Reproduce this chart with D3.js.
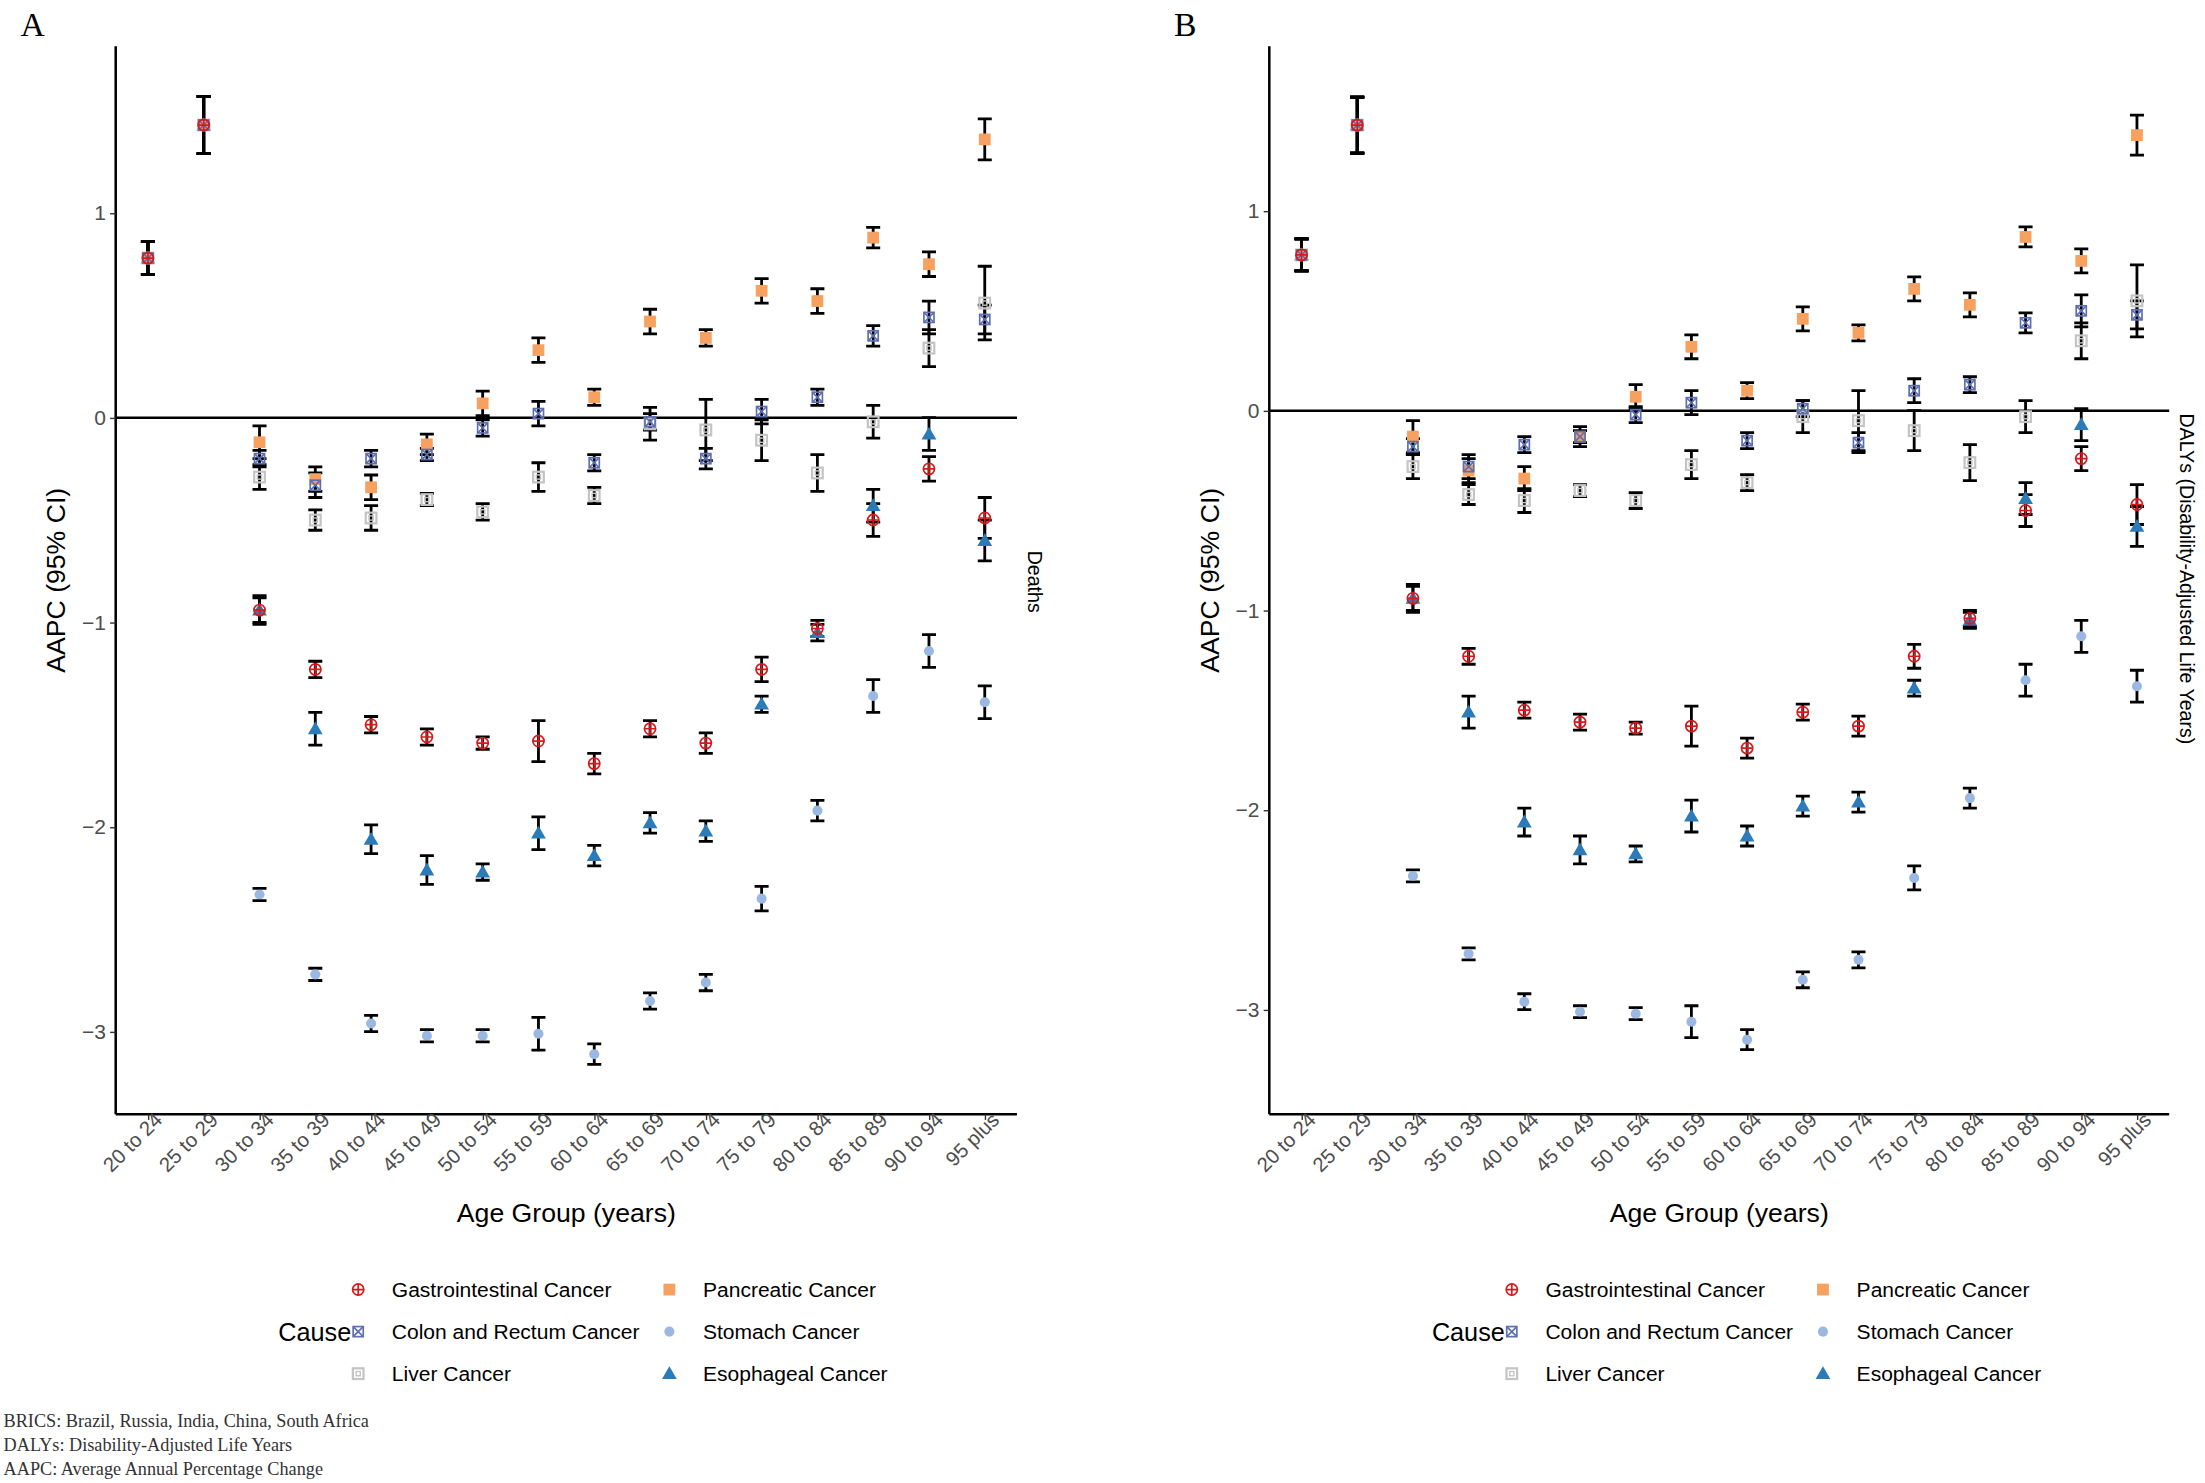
<!DOCTYPE html>
<html><head><meta charset="utf-8">
<script src="https://cdn.jsdelivr.net/npm/d3@7"></script>
<style>body{margin:0;background:#fff}</style>
</head><body>
<svg id="chart" width="2205" height="1483" viewBox="0 0 1568 1058"></svg>
<script>
// age groups on the x axis
var ages = ["20 to 24","25 to 29","30 to 34","35 to 39","40 to 44","45 to 49","50 to 54","55 to 59","60 to 64","65 to 69","70 to 74","75 to 79","80 to 84","85 to 89","90 to 94","95 plus"];
var causes = ["Gastrointestinal Cancer","Colon and Rectum Cancer","Liver Cancer","Pancreatic Cancer","Stomach Cancer","Esophageal Cancer"];
var yTicks = [-3,-2,-1,0,1];

// panel A: deaths
var deathsGI   = [0.78,1.43,-0.94,-1.23,-1.50,-1.56,-1.59,-1.58,-1.69,-1.52,-1.59,-1.23,-1.03,-0.50,-0.25,-0.49];
var deathsCRC  = [0.78,1.43,-0.20,-0.33,-0.20,-0.18,-0.05,0.02,-0.22,-0.02,-0.20,0.03,0.10,0.40,0.49,0.48];
var deathsLiv  = [0.78,1.43,-0.29,-0.50,-0.49,-0.40,-0.46,-0.29,-0.38,-0.03,-0.06,-0.11,-0.27,-0.02,0.34,0.56];
var deathsPan  = [0.78,1.43,-0.12,-0.30,-0.34,-0.13,0.07,0.33,0.10,0.47,0.39,0.62,0.57,0.88,0.75,1.36];
var deathsSto  = [0.78,1.43,-2.33,-2.72,-2.96,-3.02,-3.02,-3.01,-3.11,-2.85,-2.76,-2.35,-1.92,-1.36,-1.14,-1.39];
var deathsEso  = [0.78,1.43,-0.94,-1.52,-2.06,-2.21,-2.22,-2.03,-2.14,-1.98,-2.02,-1.40,-1.05,-0.43,-0.08,-0.60];
// panel B: DALYs
var dalyGI  = [0.78,1.43,-0.94,-1.23,-1.50,-1.56,-1.59,-1.58,-1.69,-1.51,-1.58,-1.23,-1.04,-0.50,-0.24,-0.47];
var dalyCRC = [0.78,1.43,-0.18,-0.28,-0.17,-0.13,-0.02,0.04,-0.15,0.01,-0.16,0.10,0.13,0.44,0.50,0.48];
var dalyLiv = [0.78,1.43,-0.28,-0.42,-0.45,-0.40,-0.45,-0.27,-0.36,-0.03,-0.05,-0.10,-0.26,-0.03,0.35,0.55];
var dalyPan = [0.78,1.43,-0.13,-0.30,-0.34,-0.13,0.07,0.32,0.10,0.46,0.39,0.61,0.53,0.87,0.75,1.38];
var dalySto = [0.78,1.43,-2.33,-2.72,-2.96,-3.01,-3.02,-3.06,-3.15,-2.85,-2.75,-2.34,-1.94,-1.35,-1.13,-1.38];
var dalyEso = [0.78,1.43,-0.94,-1.51,-2.06,-2.20,-2.22,-2.03,-2.13,-1.98,-1.96,-1.39,-1.05,-0.44,-0.07,-0.58];
// 95% CI half-widths (same for both panels, rough)
var ciGI  = [0.08,0.14,0.07,0.04,0.04,0.04,0.03,0.10,0.05,0.04,0.05,0.06,0.04,0.08,0.06,0.10];
var ciCRC = [0.08,0.14,0.04,0.06,0.04,0.03,0.04,0.06,0.04,0.04,0.05,0.06,0.04,0.05,0.08,0.07];
var ciLiv = [0.08,0.14,0.06,0.05,0.06,0.03,0.04,0.07,0.04,0.08,0.15,0.10,0.09,0.08,0.09,0.18];
var ciPan = [0.08,0.14,0.08,0.06,0.06,0.05,0.06,0.06,0.04,0.06,0.04,0.06,0.06,0.05,0.06,0.10];
var ciSto = [0.08,0.14,0.03,0.03,0.04,0.03,0.03,0.08,0.05,0.04,0.04,0.06,0.05,0.08,0.08,0.08];
var ciEso = [0.08,0.14,0.06,0.08,0.07,0.07,0.04,0.08,0.05,0.05,0.05,0.04,0.04,0.08,0.08,0.10];

var colors = ["#d7191c","#5d6fb3","#c4c4c4","#f7a160","#9ab8e2","#2b7bb8"];

var svg = d3.select("#chart");

function symbol(g, i, x, y) {
  var c = colors[i];
  if (i == 0) {
    g.append("circle").attr("cx",x).attr("cy",y).attr("r",4).attr("fill","none").attr("stroke",c).attr("stroke-width",1.2);
    g.append("path").attr("d",`M${x-4},${y}H${x+4}M${x},${y-4}V${y+4}`).attr("stroke",c).attr("stroke-width",1.2);
  } else if (i == 1) {
    g.append("rect").attr("x",x-3.6).attr("y",y-3.6).attr("width",7.2).attr("height",7.2).attr("fill","none").attr("stroke",c).attr("stroke-width",1.2);
    g.append("path").attr("d",`M${x-3.6},${y-3.6}L${x+3.6},${y+3.6}M${x+3.6},${y-3.6}L${x-3.6},${y+3.6}`).attr("stroke",c).attr("stroke-width",1.2);
  } else if (i == 2) {
    g.append("rect").attr("x",x-3.8).attr("y",y-3.8).attr("width",7.6).attr("height",7.6).attr("fill","none").attr("stroke",c).attr("stroke-width",1.6);
    g.append("rect").attr("x",x-1.5).attr("y",y-1.5).attr("width",3).attr("height",3).attr("fill","none").attr("stroke",c).attr("stroke-width",1);
  } else if (i == 3) {
    g.append("rect").attr("x",x-4.2).attr("y",y-4.2).attr("width",8.4).attr("height",8.4).attr("fill",c);
  } else if (i == 4) {
    g.append("circle").attr("cx",x).attr("cy",y).attr("r",3.6).attr("fill",c);
  } else {
    g.append("path").attr("d",d3.symbol(d3.symbolTriangle,48)()).attr("transform",`translate(${x},${y+0.8})`).attr("fill",c);
  }
}

function panel(opts) {
  var g = svg.append("g");
  var x = d3.scalePoint().domain(ages).range([opts.x0+23, opts.x1-23]);
  var y = d3.scaleLinear().domain(opts.ydom).range([opts.y1, opts.y0]);

  g.append("line").attr("x1",opts.x0).attr("x2",opts.x1).attr("y1",y(0)).attr("y2",y(0)).attr("stroke","#000").attr("stroke-width",1.8);

  opts.series.forEach(function (s, i) {
    s.v.forEach(function (v, j) {
      var cx = x(ages[j]), lo = y(v - s.ci[j]), hi = y(v + s.ci[j]);
      g.append("path").attr("d",`M${cx},${lo}V${hi}M${cx-5},${lo}H${cx+5}M${cx-5},${hi}H${cx+5}`)
        .attr("stroke","#000").attr("stroke-width",2).attr("fill","none");
    });
  });
  // draw in reverse so the GI marker sits on top where all causes coincide
  for (var i = opts.series.length - 1; i >= 0; i--) {
    var s = opts.series[i];
    s.v.forEach(function (v, j) { symbol(g, i, x(ages[j]), y(v)); });
  }

  var ya = g.append("g").attr("transform",`translate(${opts.x0},0)`)
    .call(d3.axisLeft(y).tickValues(yTicks).tickSize(4).tickFormat(d3.format("d")));
  ya.select(".domain").attr("stroke-width",1.8).attr("d",`M0,${opts.y0}V${opts.y1}`);
  ya.selectAll("text").attr("font-family","Liberation Sans, Arial").attr("font-size",15).attr("fill","#4d4d4d");
  ya.selectAll(".tick line").attr("stroke","#333");

  var xa = g.append("g").attr("transform",`translate(0,${opts.y1})`).call(d3.axisBottom(x).tickSize(4));
  xa.select(".domain").attr("stroke-width",1.8).attr("d",`M${opts.x0},0H${opts.x1}`);
  xa.selectAll(".tick line").attr("stroke","#333");
  xa.selectAll("text").attr("font-family","Liberation Sans, Arial").attr("font-size",14.5).attr("fill","#4d4d4d")
    .attr("text-anchor","end").attr("dx",4).attr("dy",4).attr("transform","rotate(-45)");

  g.append("text").attr("x",(opts.x0+opts.x1)/2).attr("y",872).attr("text-anchor","middle")
    .attr("font-family","Liberation Sans, Arial").attr("font-size",19).text("Age Group (years)");
  g.append("text").attr("transform",`translate(${opts.x0-36},${(opts.y0+opts.y1)/2}) rotate(-90)`).attr("text-anchor","middle")
    .attr("font-family","Liberation Sans, Arial").attr("font-size",19).text("AAPC (95% CI)");
  g.append("text").attr("transform",`translate(${opts.x1+8},${opts.stripY}) rotate(90)`).attr("text-anchor","middle")
    .attr("font-family","Liberation Sans, Arial").attr("font-size",14).text(opts.strip);
  g.append("text").attr("x",opts.x0-68).attr("y",26).attr("font-family","Liberation Serif, serif").attr("font-size",24).text(opts.tag);

  // legend
  var lx = opts.x0 + 120;
  g.append("text").attr("x",lx+48).attr("y",957).attr("text-anchor","end").attr("font-family","Liberation Sans, Arial").attr("font-size",18).text("Cause");
  causes.forEach(function (c, i) {
    var col = Math.floor(i / 3), row = i % 3;
    var sx = lx + 53 + col * 222, sy = 920 + row * 30;
    symbol(g, i, sx, sy);
    g.append("text").attr("x",sx+24).attr("y",sy+5.5).attr("font-family","Liberation Sans, Arial").attr("font-size",15).text(c);
  });
}

panel({tag:"A", x0:80, x1:723, y0:33, y1:795, ydom:[-3.404,1.815], strip:"Deaths", stripY:415,
  series:[{v:deathsGI,ci:ciGI},{v:deathsCRC,ci:ciCRC},{v:deathsLiv,ci:ciLiv},{v:deathsPan,ci:ciPan},{v:deathsSto,ci:ciSto},{v:deathsEso,ci:ciEso}]});
panel({tag:"B", x0:903, x1:1545, y0:33, y1:795, ydom:[-3.524,1.825], strip:"DALYs (Disability-Adjusted Life Years)", stripY:413,
  series:[{v:dalyGI,ci:ciGI},{v:dalyCRC,ci:ciCRC},{v:dalyLiv,ci:ciLiv},{v:dalyPan,ci:ciPan},{v:dalySto,ci:ciSto},{v:dalyEso,ci:ciEso}]});

var notes = ["BRICS: Brazil, Russia, India, China, South Africa","DALYs: Disability-Adjusted Life Years","AAPC: Average Annual Percentage Change"];
notes.forEach(function (n, i) {
  svg.append("text").attr("x",0).attr("y",1018+i*17).attr("font-family","Liberation Serif, serif").attr("font-size",13).attr("fill","#333").text(n);
});
</script>
</body></html>
